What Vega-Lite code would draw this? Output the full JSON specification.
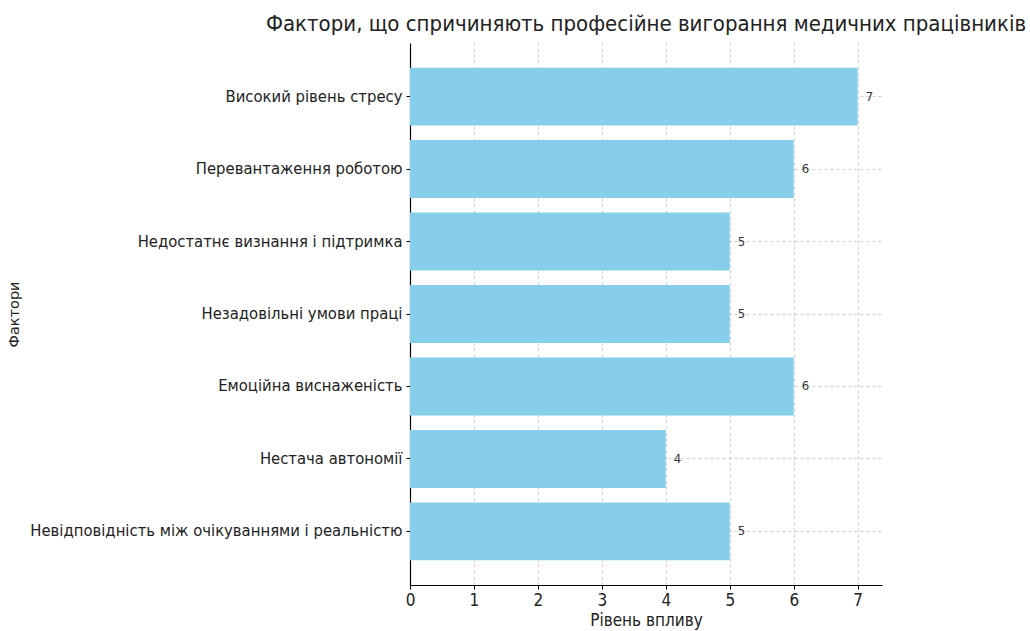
{
  "$schema": "https://vega.github.io/schema/vega-lite/v6.json",
  "autosize": "none",
  "width": 472,
  "height": 542,
  "padding": {"left": 410, "top": 43, "right": 148, "bottom": 46},
  "background": "white",
  "title": {
    "text": "Фактори, що спричиняють професійне вигорання медичних працівників",
    "font": "DejaVu Sans Condensed",
    "fontSize": 22,
    "fontWeight": "normal",
    "color": "#222222",
    "anchor": "middle",
    "offset": 7
  },
  "config": {
    "view": {"stroke": null},
    "axis": {
      "labelFont": "DejaVu Sans Condensed",
      "titleFont": "DejaVu Sans Condensed",
      "labelColor": "#222222",
      "titleColor": "#222222",
      "domainColor": "#000000",
      "tickColor": "#000000",
      "gridColor": "#bbbbbb",
      "gridDash": [3, 3],
      "gridOpacity": 0.7,
      "zindex": 1
    }
  },
  "data": {
    "values": [
      {"factor": "Високий рівень стресу", "value": 7},
      {"factor": "Перевантаження роботою", "value": 6},
      {"factor": "Недостатнє визнання і підтримка", "value": 5},
      {"factor": "Незадовільні умови праці", "value": 5},
      {"factor": "Емоційна виснаженість", "value": 6},
      {"factor": "Нестача автономії", "value": 4},
      {"factor": "Невідповідність між очікуваннями і реальністю", "value": 5}
    ]
  },
  "encoding": {
    "y": {
      "field": "factor",
      "type": "nominal",
      "sort": null,
      "scale": {"paddingInner": 0.2, "paddingOuter": 0.34},
      "axis": {
        "title": "Фактори",
        "titleFont": "DejaVu Sans",
        "titleFontSize": 14.5,
        "titleFontWeight": "normal",
        "titleX": -389,
        "labelFontSize": 16.5,
        "labelLimit": 400,
        "labelPadding": 4,
        "tickSize": 4,
        "grid": true,
        "domainWidth": 1.2
      }
    },
    "x": {
      "field": "value",
      "type": "quantitative",
      "scale": {"domain": [0, 7.38], "nice": false},
      "axis": {
        "title": "Рівень впливу",
        "titleFontSize": 17,
        "titleFontWeight": "normal",
        "titlePadding": 4,
        "labelFontSize": 17,
        "labelFlush": false,
        "labelPadding": 3,
        "tickSize": 4,
        "values": [0, 1, 2, 3, 4, 5, 6, 7],
        "grid": true,
        "domainWidth": 1.2
      }
    }
  },
  "layer": [
    {"mark": {"type": "bar", "color": "#87CEEB"}},
    {
      "mark": {
        "type": "text",
        "align": "left",
        "baseline": "middle",
        "dx": 8,
        "font": "DejaVu Sans Condensed",
        "fontSize": 13,
        "color": "#333333"
      },
      "encoding": {"text": {"field": "value", "type": "quantitative"}}
    }
  ]
}
